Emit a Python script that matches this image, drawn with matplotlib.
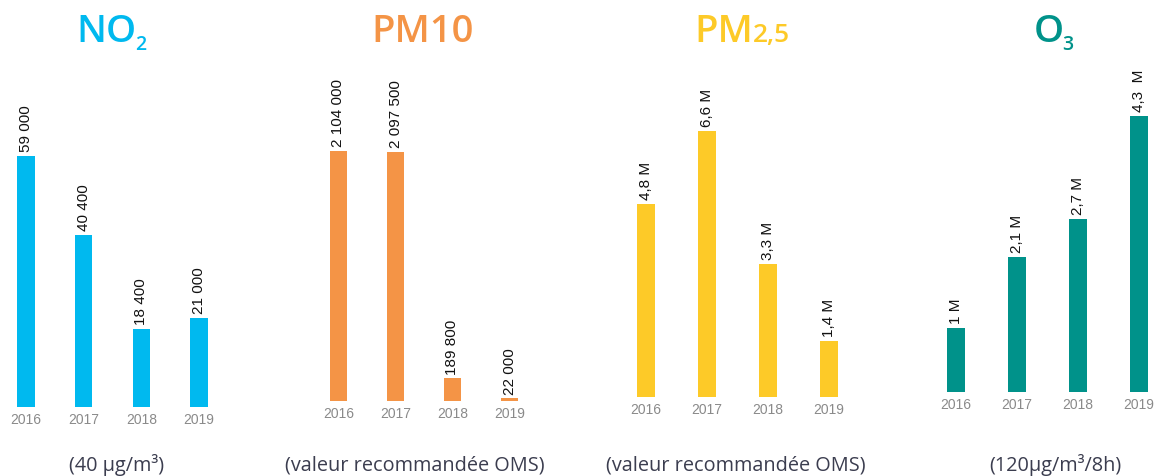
import matplotlib
matplotlib.use("Agg")
import matplotlib.pyplot as plt
from matplotlib.transforms import IdentityTransform

# data
years = ["2016", "2017", "2018", "2019"]

no2_values = [59000, 40400, 18400, 21000]
no2_labels = ["59 000", "40 400", "18 400", "21 000"]

pm10_values = [2104000, 2097500, 189800, 22000]
pm10_labels = ["2 104 000", "2 097 500", "189 800", "22 000"]

pm25_values = [4.8, 6.6, 3.3, 1.4]
pm25_labels = ["4,8 M", "6,6 M", "3,3 M", "1,4 M"]

o3_values = [1.0, 2.1, 2.7, 4.3]
o3_labels = ["1 M", "2,1 M", "2,7 M", "4,3  M"]

titles = [("NO", "2", "sub"), ("PM10", "", None), ("PM", "2,5", "base"), ("O", "3", "sub")]
notes = ["(40 µg/m³)", "(valeur recommandée OMS)", "(valeur recommandée OMS)", "(120µg/m³/8h)"]
colors = ["#00B9EF", "#F49446", "#FDCA28", "#00928A"]

W, H = 1154, 477
TOP_PX = 40

# layout in pixels: first bar centre, last bar centre, baseline, top of tallest bar
panels = [
    dict(c0=26, c3=199, base=408, top=157),
    dict(c0=338.5, c3=509.5, base=402, top=152),
    dict(c0=646, c3=829, base=398, top=132),
    dict(c0=956, c3=1139, base=393, top=117),
]
title_centres = [111.5, 423, 742, 1053.5]
note_centres = [116.5, 415, 736, 1055]

fig = plt.figure(figsize=(W / 100, H / 100), dpi=100)
fig.patch.set_facecolor("white")

series = [(no2_values, no2_labels), (pm10_values, pm10_labels),
          (pm25_values, pm25_labels), (o3_values, o3_labels)]

for k, ((vals, labs), p, col) in enumerate(zip(series, panels, colors)):
    u = (p["c3"] - p["c0"]) / 3.0
    left = p["c0"] - 0.5 * u
    ax = fig.add_axes([left / W, 1 - p["base"] / H, 4 * u / W, (p["base"] - TOP_PX) / H])
    ymax = max(vals) * (p["base"] - TOP_PX) / (p["base"] - p["top"])
    ax.bar(range(4), vals, width=17.5 / u, color=col)
    ax.set_xlim(-0.5, 3.5)
    ax.set_ylim(0, ymax)
    for i, (v, s) in enumerate(zip(vals, labs)):
        ax.annotate(s, (i, v), xytext=(0, 3.5), textcoords="offset points",
                    rotation=90, ha="center", va="bottom",
                    fontsize=11, family="Liberation Sans", color="#111111")
    ax.set_xticks(range(4))
    ax.set_xticklabels(years, fontsize=10, family="Liberation Sans", color="#8a8a8a")
    ax.tick_params(axis="x", length=0, pad=3.5)
    ax.set_yticks([])
    for sp in ax.spines.values():
        sp.set_visible(False)
    ax.patch.set_alpha(0)

renderer = fig.canvas.get_renderer()
TITLE_BASE = 42
for (main, extra, kind), xc, col in zip(titles, title_centres, colors):
    t1 = fig.text(0, H - TITLE_BASE, main, transform=IdentityTransform(),
                  ha="left", va="baseline", fontsize=27.5, family="Open Sans",
                  weight="semibold", color=col)
    w1 = t1.get_window_extent(renderer).width
    if extra:
        size = 14 if kind == "sub" else 19
        drop = 8 if kind == "sub" else 0
        gap = -1
        t2 = fig.text(0, H - TITLE_BASE - drop, extra, transform=IdentityTransform(),
                      ha="left", va="baseline", fontsize=size, family="Open Sans",
                      weight="semibold", color=col)
        w2 = t2.get_window_extent(renderer).width
        x0 = xc - (w1 + w2 + gap) / 2
        t1.set_x(x0)
        t2.set_x(x0 + w1 + gap)
    else:
        t1.set_x(xc - w1 / 2)

for s, xc in zip(notes, note_centres):
    fig.text(xc / W, 1 - 471 / H, s, ha="center", va="baseline", fontsize=14.3,
             family="Open Sans", color="#3b3d4f")

fig.savefig("out.png", dpi=100)
